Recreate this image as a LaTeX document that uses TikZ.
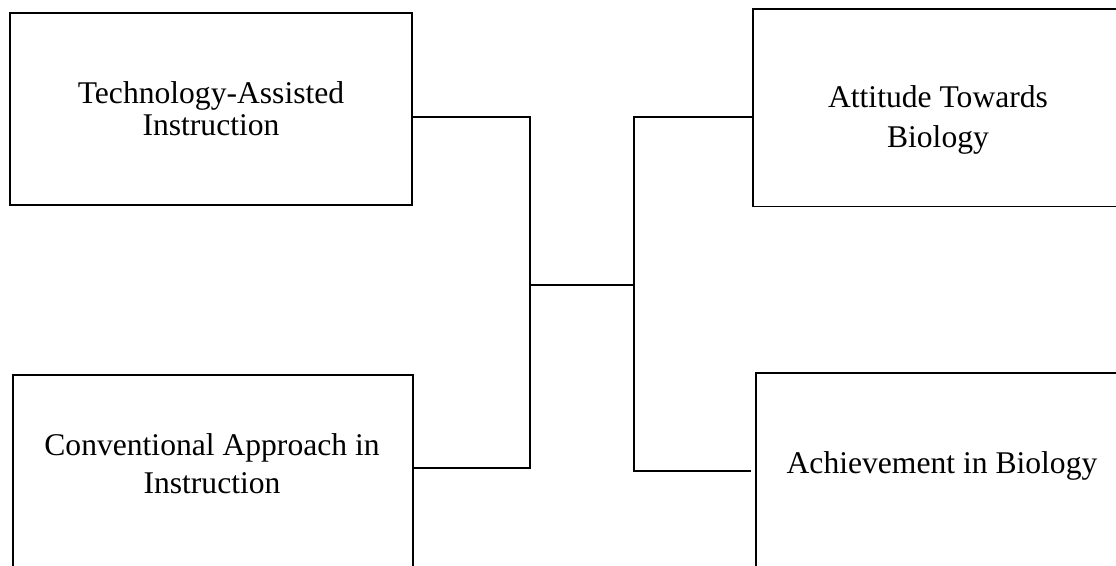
\documentclass[tikz,border=0pt]{standalone}
\usepackage{fontspec}
\setmainfont{Liberation Serif}
\tikzset{
  box/.style={draw, inner sep=0pt},
  lbl/.style={align=center, inner sep=0pt, font=\fontsize{15.8}{16}\selectfont},
}
\begin{document}
\begin{tikzpicture}[x=0.5pt, y=-0.5pt, line width=0.6pt]
	\useasboundingbox (0,0) rectangle (1116,566);
	\clip (0,0) rectangle (1116,566);
	% boxes
	\node[box, minimum width=201pt, minimum height=96pt] (tai) at (211,109) {};
	\node[box, minimum width=200pt, minimum height=97.5pt] (cai) at (213,472.5) {};
	\node[box, minimum width=189pt, minimum height=98.75pt] (atb) at (942,107.75) {};
	\node[box, minimum width=187.5pt, minimum height=98.5pt] (aib) at (943.5,471.5) {};
	% texts
	\node[lbl] (tai-t) at (211,108.5) {Technology-Assisted\\Instruction};
	\node[lbl, font=\fontsize{15.8}{19}\selectfont] (cai-t) at (212,463.5) {Conventional Approach in\\Instruction};
	\node[lbl, font=\fontsize{15.8}{20}\selectfont] (atb-t) at (938,120) {Attitude Towards\\Biology};
	\node[lbl] (aib-t) at (942,466) {Achievement in Biology};
	% connectors
	\coordinate (lt) at (530,117);
	\coordinate (lb) at (530,468);
	\coordinate (jl) at (530,285);
	\coordinate (jr) at (634,285);
	\coordinate (rt) at (634,117);
	\coordinate (rb) at (634,471);
	\coordinate (rend) at (751,471);
	\draw (tai.east |- lt) -- (lt) -- (lb) -- (cai.east |- lb);
	\draw (jl) -- (jr);
	\draw (atb.west |- rt) -- (rt) -- (rb) -- (rend);
\end{tikzpicture}
\end{document}
